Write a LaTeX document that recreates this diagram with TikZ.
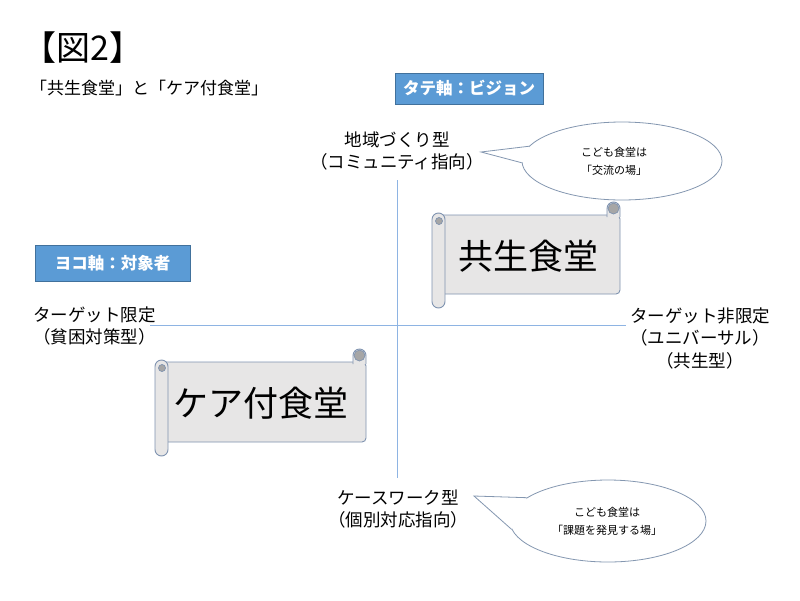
\documentclass[tikz,border=0pt]{standalone}
\usepackage{fontspec}
\setmainfont{Noto Sans CJK JP}
\usetikzlibrary{shapes.geometric,calc}
\definecolor{boxblue}{HTML}{5B9BD5}
\definecolor{boxedge}{HTML}{41719C}
\definecolor{axisblue}{HTML}{8EB4E3}
\definecolor{scrollfill}{HTML}{E7E6E6}
\definecolor{scrolledge}{HTML}{7F93B0}
\definecolor{curlgray}{HTML}{A6A6A6}
\definecolor{bubbleedge}{HTML}{8497B0}
\newcommand{\scrollshape}[4]{%
  \path[scrollbody, rounded corners=4pt] ({#1+6},{#2+13}) rectangle (#3,{#4-14});
  \path[scrollbody, rounded corners=6.5pt] ({#3-13},{#2+15}) -- ({#3-13},#2) -- (#3,#2) -- (#3,{#2+15});
  \path[curl] ({#3-6.5},{#2+6.5}) circle[radius=5.5pt];
  \path[scrollbody, rounded corners=6.5pt] (#1,{#2+11}) rectangle ({#1+13},#4);
  \path[curl] ({#1+7},{#2+19}) circle[radius=3.5pt];
}
\begin{document}
\begin{tikzpicture}[x=1pt,y=-1pt,
  lbl/.style={font=\fontsize{17.5}{22.5}\selectfont, align=center, inner sep=0pt},
  axisbox/.style={fill=boxblue, draw=boxedge, line width=0.8pt, text=white,
    font=\fontsize{16.5}{20}\selectfont\bfseries, inner sep=0pt},
  axisline/.style={draw=axisblue, line width=1pt},
  bubble/.style={ellipse, draw=bubbleedge, fill=white, line width=0.8pt, inner sep=0pt},
  bubbletext/.style={font=\fontsize{11}{18}\selectfont, align=center, inner sep=0pt},
  bubbleline/.style={draw=bubbleedge, line width=0.8pt},
  scrollbody/.style={fill=scrollfill, draw=scrolledge, line width=0.9pt},
  curl/.style={fill=curlgray, draw=scrolledge, line width=0.7pt},
  bigtext/.style={font=\fontsize{35}{40}\selectfont, inner sep=0pt}]
\useasboundingbox[fill=white] (0,0) rectangle (800,600);

% title
\node[anchor=west, inner sep=0pt, font=\fontsize{34}{38}\selectfont] (title) at (22,48) {【図2】};
\node[anchor=west, inner sep=0pt, font=\fontsize{17}{20}\selectfont] (subtitle) at (30,88) {「共生食堂」と「ケア付食堂」};

% axis boxes
\node[axisbox, minimum width=148pt, minimum height=31pt] (tate) at (469,88.5) {タテ軸：ビジョン};
\node[axisbox, minimum width=155pt, minimum height=36pt] (yoko) at (112.5,263.5) {ヨコ軸：対象者};

% axes
\coordinate (vT) at (397,180);
\coordinate (vB) at (397,478);
\coordinate (hL) at (150,325);
\coordinate (hR) at (626,325);
\draw[axisline] (vT) -- (vB);
\draw[axisline] (hL) -- (hR);

% axis labels
\node[lbl] (top) at (397,151) {地域づくり型\\（コミュニティ指向）};
\node[lbl] (bottom) at (398,509) {ケースワーク型\\（個別対応指向）};
\node[lbl, anchor=west, align=left] (left) at (33,326) {ターゲット限定\\（貧困対策型）};
\node[lbl] (right) at (700,338) {ターゲット非限定\\（ユニバーサル）\\（共生型）};

% scrolls
\scrollshape{432}{202}{620}{308}
\node[bigtext] (kyosei) at (528,256) {共生食堂};
\scrollshape{155}{349}{366}{456}
\node[bigtext] (care) at (261,403) {ケア付食堂};

% callout 1
\node[bubble, minimum width=200pt, minimum height=78pt] (b1) at (622,161) {};
\node[bubbletext] (b1t) at (614,161) {こども食堂は\\「交流の場」};
\coordinate (t1) at (481,152);
\fill[white] (b1.171) -- (t1) -- (b1.181) -- ($(b1.176)+(10,0)$) -- cycle;
\draw[bubbleline] (b1.171) -- (t1) -- (b1.181);

% callout 2
\node[bubble, minimum width=196pt, minimum height=82pt] (b2) at (608,521) {};
\node[bubbletext] (b2t) at (607,521) {こども食堂は\\「課題を発見する場」};
\coordinate (t2) at (474,496);
\fill[white] (b2.164) -- (t2) -- (b2.185) -- ($(b2.175)+(10,0)$) -- cycle;
\draw[bubbleline] (b2.164) -- (t2) -- (b2.185);
\end{tikzpicture}
\end{document}
